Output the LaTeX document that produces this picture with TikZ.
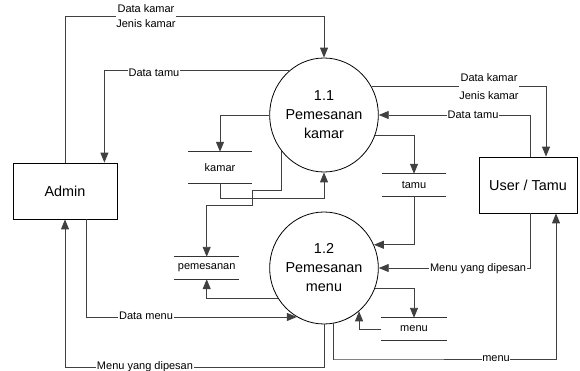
\documentclass[tikz,border=0pt]{standalone}
\usepackage{fontspec}
\setmainfont{Liberation Sans}
\usetikzlibrary{shapes.geometric,arrows.meta}
\begin{document}
\begin{tikzpicture}[x=1pt,y=-1pt,
  proc/.style={draw=black,line width=0.8pt,ellipse,minimum width=104pt,minimum height=114pt,inner sep=0pt,align=center,font=\fontsize{14.4}{19}\selectfont},
  ent/.style={draw=black,line width=0.8pt,rectangle,inner sep=0pt,font=\fontsize{14.4}{17}\selectfont},
  store/.style={inner sep=0pt,minimum width=65pt,font=\fontsize{11}{13}\selectfont},
  sline/.style={draw=black!80,line width=0.9pt},
  flow/.style={draw=black!75,line width=0.9pt,-{Triangle[length=10pt,width=8pt]}},
  lbl/.style={fill=white,inner sep=0.6pt,font=\fontsize{11}{13}\selectfont,align=center}]
\useasboundingbox (0,0) rectangle (580,371);

% processes and entities
\node[proc] (p11) at (324,115) {1.1\\Pemesanan\\kamar};
\node[proc,minimum height=112pt] (p12) at (324,268) {1.2\\Pemesanan\\menu};
\node[ent,minimum width=104pt,minimum height=56pt] (admin) at (65,191) {Admin};
\node[ent,minimum width=98pt,minimum height=56pt] (user) at (528,185) {User / Tamu};

% data stores
\node[store,minimum width=64pt,minimum height=31pt] (kamar) at (220,167.5) {kamar};
\node[store,minimum width=64pt,minimum height=22pt] (tamu) at (414,185) {tamu};
\node[store,minimum width=65pt,minimum height=22pt] (pem) at (206.7,268) {pemesanan};
\node[store,minimum width=65pt,minimum height=22pt] (menu) at (414,329) {menu};
\foreach \s in {kamar,tamu,pem,menu}{
  \draw[sline] (\s.north west) -- (\s.north east);
  \draw[sline] (\s.south west) -- (\s.south east);
}

% flows
\coordinate (a1) at (65,16);
\draw[flow] (admin.north) -- (a1) -| (p11.north);
\node[lbl,font=\fontsize{11}{15}\selectfont] (l1) at (146,16.5) {Data kamar\\Jenis kamar};

\draw[flow] (p11.128) -| ([xshift=-13pt]admin.north east);
\node[lbl] (l2) at (154,72.5) {Data tamu};

\draw[flow] (p11.west) -| (kamar.north);
\draw[flow] (p11.-22) -| (tamu.north);

\draw[flow] (p11.31) -| ([xshift=18pt]user.north);
\node[lbl,font=\fontsize{11}{18}\selectfont] (l3) at (489,86.7) {Data kamar\\Jenis kamar};

\draw[flow] ([xshift=2pt]user.north) |- (p11.east);
\node[lbl] (l4) at (473,114.5) {Data tamu};

\coordinate (k1) at (220,198);
\draw[flow] (kamar.south) -- (k1) -| (p11.south);

\coordinate (j1) at (252,190);
\coordinate (j2) at (252,205);
\draw[flow] (p11.220) |- (j1) -- (j2) -| (pem.north);

\draw[flow] (p12.213) -| (pem.south);

\draw[flow] ([xshift=21pt]admin.south) |- (p12.241);
\node[lbl] (l5) at (146,316) {Data menu};

\coordinate (b1) at (324,367);
\draw[flow] (p12.south) -- (b1) -| (admin.south);
\node[lbl] (l6) at (145,367) {Menu yang dipesan};

\draw[flow] (tamu.south) |- (p12.25);

\draw[flow] ([xshift=2pt]user.south) |- (p12.east);
\node[lbl] (l7) at (478,269) {Menu yang dipesan};

\draw[flow] (p12.-22) -| (menu.north);
\draw[flow] (menu.west) -| (p12.-51);

\coordinate (m1) at (334,359);
\draw[flow] (p12.-80) |- (m1) -| ([xshift=28pt]user.south);
\node[lbl] (l8) at (496,359) {menu};
\end{tikzpicture}
\end{document}
